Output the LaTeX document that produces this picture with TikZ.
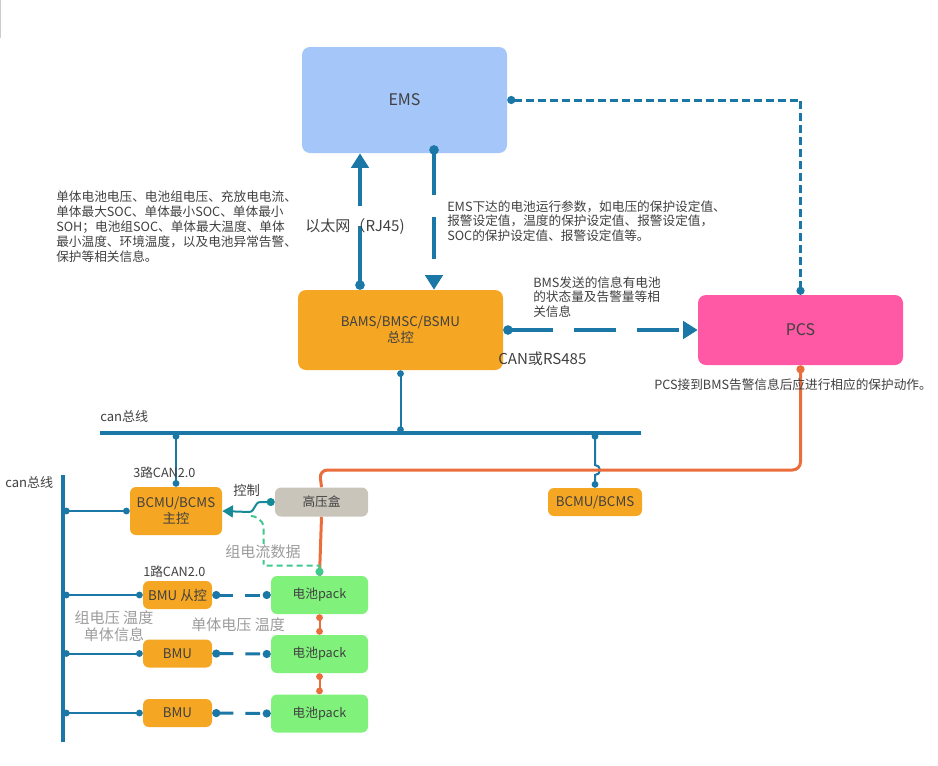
\documentclass[tikz,border=0pt]{standalone}
\usepackage{fontspec}
\setmainfont{Noto Sans CJK SC}
\usepackage{xcolor}
\usetikzlibrary{arrows.meta}

\definecolor{busblue}{RGB}{27,120,166}
\definecolor{emsblue}{RGB}{164,198,248}
\definecolor{pcspink}{RGB}{255,88,164}
\definecolor{ctrlorange}{RGB}{245,166,35}
\definecolor{hvgray}{RGB}{202,197,187}
\definecolor{packgreen}{RGB}{128,242,124}
\definecolor{linkorange}{RGB}{234,110,60}
\definecolor{datagreen}{RGB}{62,200,142}
\definecolor{ctrlteal}{RGB}{22,138,150}
\definecolor{txtdark}{RGB}{64,64,64}
\definecolor{txtgray}{RGB}{156,156,156}

\tikzset{
  box/.style={rounded corners=4.5pt, inner sep=0pt, align=center, text=txtdark, font=\fontsize{10}{12}\selectfont},
  desc/.style={inner sep=0pt, align=left, text=txtdark, font=\fontsize{9.5}{11.1}\selectfont},
  biglbl/.style={inner sep=0pt, text=txtdark, font=\fontsize{11.3}{13}\selectfont},
  graylbl/.style={inner sep=0pt, align=center, text=txtgray, font=\fontsize{11.3}{13}\selectfont},
  canline/.style={busblue, line width=1.5pt},
  dotdot/.style={{Circle[length=5pt]}-{Circle[length=5pt]}},
  packlink/.style={busblue, line width=2.25pt, dash pattern={on 11pt off 9pt}, {Circle[length=6pt]}-{Circle[length=6pt]}},
  hvline/.style={linkorange, line width=2.25pt}
}

\begin{document}
\begin{tikzpicture}[x=0.75pt,y=0.75pt,yscale=-1,xscale=1]
\useasboundingbox (0,0) rectangle (938,765);
\draw [gray!40] (0.5,0) -- (0.5,38);

% Boxes
\node [box, fill=emsblue, rounded corners=6pt, minimum width=153.75pt, minimum height=79.5pt, font=\fontsize{12}{14}\selectfont] (EMS) at (404.5,100) {EMS};
\node [box, fill=pcspink, rounded corners=6pt, minimum width=153.75pt, minimum height=52.5pt, font=\fontsize{12}{14}\selectfont] (PCS) at (800.5,330) {PCS};
\node [box, fill=ctrlorange, rounded corners=6pt, minimum width=153.75pt, minimum height=60pt] (BAMS) at (400.5,330) {BAMS/BMSC/BSMU\\总控};
\node [box, fill=ctrlorange, minimum width=69pt, minimum height=36pt] (BCMU) at (176,511) {BCMU/BCMS\\主控};
\node [box, fill=ctrlorange, minimum width=70.5pt, minimum height=21pt] (BCMUR) at (595,502) {BCMU/BCMS};
\node [box, fill=hvgray, minimum width=69.75pt, minimum height=21.75pt, font=\fontsize{9.5}{11}\selectfont] (hvbox) at (321.5,502) {高压盒};
\node [box, fill=ctrlorange, minimum width=51.75pt, minimum height=21pt] (bmu1) at (177.5,595) {BMU 从控};
\node [box, fill=ctrlorange, minimum width=51.75pt, minimum height=21pt] (bmu2) at (177.5,653.5) {BMU};
\node [box, fill=ctrlorange, minimum width=51.75pt, minimum height=21pt] (bmu3) at (177.5,713) {BMU};
\node [box, fill=packgreen, minimum width=72.75pt, minimum height=28.5pt, font=\fontsize{9.5}{11}\selectfont] (pack1) at (319.5,595) {电池pack};
\node [box, fill=packgreen, minimum width=72.75pt, minimum height=28.5pt, font=\fontsize{9.5}{11}\selectfont] (pack2) at (319.5,654) {电池pack};
\node [box, fill=packgreen, minimum width=72.75pt, minimum height=28.5pt, font=\fontsize{9.5}{11}\selectfont] (pack3) at (319.5,713.5) {电池pack};

% Bus coordinates
\coordinate (upx) at (360,0);
\coordinate (downx) at (434,0);
\coordinate (busL) at (100,433);
\coordinate (busR) at (641,433);
\coordinate (lbusT) at (63,475);
\coordinate (lbusB) at (63,742);
\coordinate (hvturn) at (319.5,470);

% EMS <-> BAMS
\draw [busblue, line width=3pt, dash pattern={on 42pt off 15pt}, {Circle[length=7pt]}-{Triangle[length=11pt,width=13pt]}] (BAMS.north -| upx) -- (EMS.south -| upx);
\draw [busblue, line width=3pt, dash pattern={on 31.5pt off 16.5pt}, {Circle[length=7pt]}-{Triangle[length=11pt,width=13pt]}] ([yshift=-6pt]EMS.south -| downx) -- (BAMS.north -| downx);
% BAMS -> PCS
\draw [busblue, line width=3pt, dash pattern={on 31.5pt off 15.75pt}, {Circle[length=7pt]}-{Triangle[length=11pt,width=13pt]}] (BAMS.east) -- (PCS.west);
% EMS -- PCS
\draw [busblue, line width=2.25pt, dash pattern={on 6pt off 3pt}, {Circle[length=6pt]}-{Circle[length=6pt]}] (EMS.east) -| (PCS.north);

% can bus
\draw [busblue, line width=3pt] (busL) -- (busR);
\draw [canline, dotdot] (BAMS.south) -- (BAMS.south |- busL);
\draw [canline, dotdot] (BCMU.north |- busL) -- (BCMU.north);
\draw [canline, dotdot] (BCMUR.north |- busL) -- ++(0,32) arc [start angle=-90, end angle=90, radius=5] -- (BCMUR.north);

% high voltage line
\draw [hvline, rounded corners=6pt, {Circle[length=6pt]}-] (PCS.south) |- (hvturn) -- (hvbox.north);
\draw [hvline] (hvbox.south) -- (pack1.north);
\draw [linkorange, line width=1.5pt, dotdot] (pack1.south) -- (pack2.north);
\draw [linkorange, line width=1.5pt, dotdot] (pack2.south) -- (pack3.north);

% left can bus
\draw [busblue, line width=3pt] (lbusT) -- (lbusB);
\draw [canline, dotdot] (BCMU.west -| lbusT) -- (BCMU.west);
\draw [canline, dotdot] (bmu1.west -| lbusT) -- (bmu1.west);
\draw [canline, dotdot] (bmu2.west -| lbusT) -- (bmu2.west);
\draw [canline, dotdot] (bmu3.west -| lbusT) -- (bmu3.west);
\draw [packlink] (bmu1.east) -- (pack1.west);
\draw [packlink] (bmu2.east) -- (pack2.west);
\draw [packlink] (bmu3.east) -- (pack3.west);

% current data and control
\draw [datagreen, line width=1.5pt, dash pattern={on 4.5pt off 3pt}, {Circle[length=6pt]}-] (pack1.north) -- ++(0,-10) -- ++(-56,0) -- ++(0,-38) .. controls +(0,-8) and +(6,0) .. ++(-14,-12);
\draw [ctrlteal, line width=1.5pt, {Circle[length=6pt]}-{Triangle[length=8pt,width=9pt]}] (hvbox.west) -- ++(-14,0) .. controls +(-7,0) and +(7,0) .. ++(-12,10) -- (BCMU.east);

% Text Node
\node [desc, anchor=north west] (lefttxt) at (56,191) {单体电池电压、电池组电压、充放电电流、\\单体最大SOC、单体最小SOC、单体最小\\SOH；电池组SOC、单体最大温度、单体\\最小温度、环境温度，以及电池异常告警、\\保护等相关信息。};
% Text Node
\node [biglbl, anchor=west] (ethtxt) at (305,227) {以太网（RJ45)};
% Text Node
\node [desc, anchor=north west] (emstxt) at (447,200) {EMS下达的电池运行参数，如电压的保护设定值、\\报警设定值，温度的保护设定值、报警设定值，\\SOC的保护设定值、报警设定值等。};
% Text Node
\node [desc, anchor=north west] (bmstxt) at (533,276) {BMS发送的信息有电池\\的状态量及告警量等相\\关信息};
% Text Node
\node [biglbl, anchor=west] (cantxt) at (498,359) {CAN或RS485};
% Text Node
\node [desc, anchor=west] (pcstxt) at (654,385) {PCS接到BMS告警信息后应进行相应的保护动作。};
% Text Node
\node [desc, anchor=west, font=\fontsize{9.8}{11}\selectfont] (bustxt) at (100,416) {can总线};
% Text Node
\node [desc, anchor=west, font=\fontsize{9.8}{11}\selectfont] (lbustxt) at (5,482) {can总线};
% Text Node
\node [desc, anchor=west] (can3txt) at (133,473) {3路CAN2.0};
% Text Node
\node [desc, anchor=west, font=\fontsize{10}{11}\selectfont] (ctrltxt) at (233,490) {控制};
% Text Node
\node [graylbl, fill=white, inner sep=1pt] (curtxt) at (263,552) {组电流数据};
% Text Node
\node [desc, anchor=west] (can1txt) at (143,572) {1路CAN2.0};
% Text Node
\node [graylbl] (grptxt) at (114,626) {组电压 温度\\单体信息};
% Text Node
\node [graylbl, anchor=west] (celltxt) at (191,625) {单体电压 温度};

\end{tikzpicture}
\end{document}
